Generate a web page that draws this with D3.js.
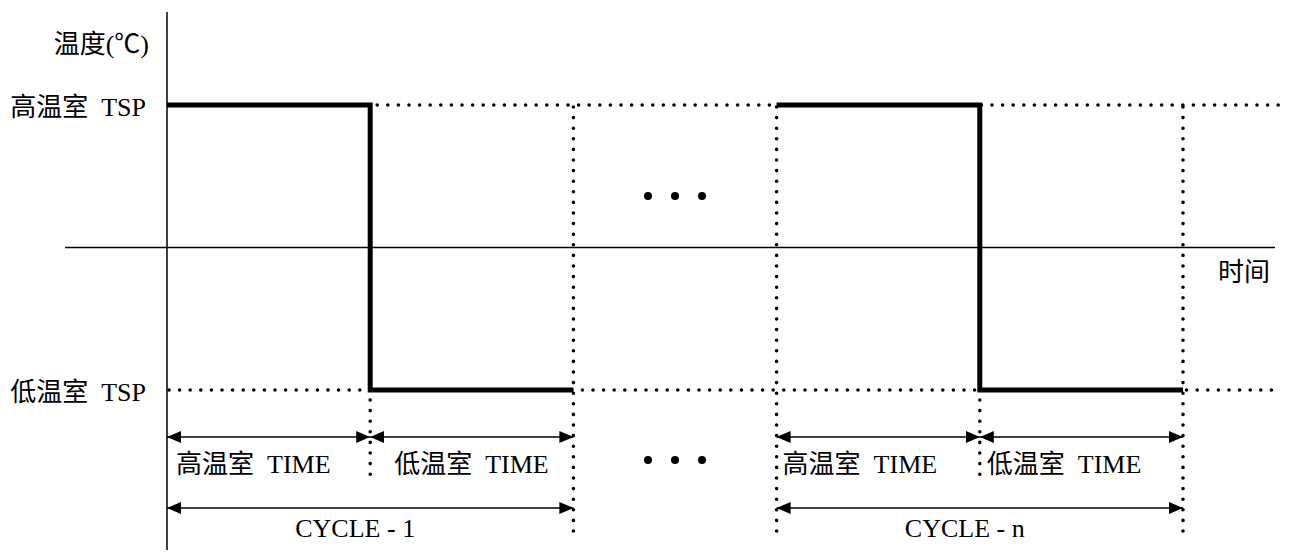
<!DOCTYPE html>
<html>
<head>
<meta charset="utf-8">
<script src="https://cdn.jsdelivr.net/npm/d3@7"></script>
<style>
  body { margin: 0; background: #fff; }
  text { font-family: "Liberation Serif", "Noto Sans CJK SC", serif; font-size: 26px; fill: #000; white-space: pre; }
</style>
</head>
<body>
<div id="chart"></div>
<script>
// Thermal shock cycle: high chamber soak, then low chamber soak
const cycleNames = ["CYCLE - 1", "CYCLE - n"];
const cycleStart = [0, 3];
const phaseNames = ["高温室  TIME", "低温室  TIME"];
const phaseLevel = [1, -1];
const phaseDuration = [1, 1];
const levelLabels = ["高温室  TSP", "低温室  TSP"];
const levelValues = [1, -1];
const yTitle = "温度(℃)";
const xTitle = "时间";

const width = 1290, height = 554;

const svg = d3.select("#chart")
  .append("svg")
  .attr("width", width)
  .attr("height", height);

const x = d3.scaleLinear().domain([0, 5]).range([167, 1183]);
const y = d3.scaleLinear().domain([-1, 1]).range([390, 105]);

const phaseRowY = 437, cycleRowY = 508, dotBottom = 532;

// arrowheads
const defs = svg.append("defs");
defs.append("marker")
  .attr("id", "arrow")
  .attr("viewBox", "0 0 14 12")
  .attr("refX", 14).attr("refY", 6)
  .attr("markerWidth", 14).attr("markerHeight", 12)
  .attr("markerUnits", "userSpaceOnUse")
  .attr("orient", "auto-start-reverse")
  .append("path")
  .attr("d", "M0,0L14,6L0,12Z")
  .attr("fill", "#000");

const dotted = sel => sel
  .attr("stroke", "#000")
  .attr("stroke-width", 3.6)
  .attr("stroke-linecap", "round")
  .attr("stroke-dasharray", "0 10.6")
  .attr("fill", "none");

// axes
svg.append("line")
  .attr("x1", 65).attr("x2", 1275)
  .attr("y1", y(0)).attr("y2", y(0))
  .attr("stroke", "#000").attr("stroke-width", 1.5);

svg.append("line")
  .attr("x1", x(0)).attr("x2", x(0))
  .attr("y1", 12).attr("y2", 550)
  .attr("stroke", "#000").attr("stroke-width", 1.5);

// dotted reference levels
svg.append("line").call(dotted)
  .attr("x1", x(phaseDuration[0]) + 7).attr("x2", 1280)
  .attr("y1", y(levelValues[0])).attr("y2", y(levelValues[0]));
svg.append("line").call(dotted)
  .attr("x1", x(0) + 2).attr("x2", 1280)
  .attr("y1", y(levelValues[1])).attr("y2", y(levelValues[1]));

// dotted verticals per cycle
cycleStart.forEach((s, i) => {
  const switchT = s + phaseDuration[0];
  const endT = switchT + phaseDuration[1];
  if (i > 0) {
    svg.append("line").call(dotted)
      .attr("x1", x(s)).attr("x2", x(s))
      .attr("y1", y(levelValues[0]) + 2).attr("y2", dotBottom);
  }
  svg.append("line").call(dotted)
    .attr("x1", x(switchT)).attr("x2", x(switchT))
    .attr("y1", y(levelValues[1]) + 10).attr("y2", 478);
  svg.append("line").call(dotted)
    .attr("x1", x(endT)).attr("x2", x(endT))
    .attr("y1", y(levelValues[0]) + 2).attr("y2", dotBottom);
});

// thick temperature profile
const profile = d3.line()
  .x(d => x(d[0]))
  .y(d => y(d[1]))
  .curve(d3.curveStepAfter);

cycleStart.forEach(s => {
  let t = s;
  const pts = [];
  phaseLevel.forEach((lv, j) => { pts.push([t, lv]); t += phaseDuration[j]; });
  pts.push([t, phaseLevel[phaseLevel.length - 1]]);
  svg.append("path")
    .attr("d", profile(pts))
    .attr("fill", "none")
    .attr("stroke", "#000")
    .attr("stroke-width", 5)
    .attr("stroke-linejoin", "miter");
});

// duration arrows and labels
const phaseLabelPad = [[9, 24], [6, 7]];
cycleStart.forEach((s, i) => {
  let t = s;
  phaseDuration.forEach((dur, j) => {
    svg.append("line")
      .attr("x1", x(t)).attr("x2", x(t + dur))
      .attr("y1", phaseRowY).attr("y2", phaseRowY)
      .attr("stroke", "#000").attr("stroke-width", 1.5)
      .attr("marker-start", "url(#arrow)")
      .attr("marker-end", "url(#arrow)");
    svg.append("text")
      .attr("x", x(t) + phaseLabelPad[i][j])
      .attr("y", 464)
      .attr("dy", "0.35em")
      .text(phaseNames[j]);
    t += dur;
  });
  svg.append("line")
    .attr("x1", x(s)).attr("x2", x(t))
    .attr("y1", cycleRowY).attr("y2", cycleRowY)
    .attr("stroke", "#000").attr("stroke-width", 1.5)
    .attr("marker-start", "url(#arrow)")
    .attr("marker-end", "url(#arrow)");
  svg.append("text")
    .attr("x", (x(s) + x(t)) / 2 - 15)
    .attr("y", 528)
    .attr("dy", "0.35em")
    .attr("text-anchor", "middle")
    .text(cycleNames[i]);
});

// ellipsis between cycles
[196, 460].forEach(cy => {
  [0, 1, 2].forEach(k => {
    svg.append("circle")
      .attr("cx", 648 + k * 27)
      .attr("cy", cy)
      .attr("r", 4)
      .attr("fill", "#000");
  });
});

// labels
svg.append("text")
  .attr("x", 149).attr("y", 44).attr("dy", "0.35em")
  .attr("text-anchor", "end")
  .text(yTitle);

levelLabels.forEach((lab, i) => {
  svg.append("text")
    .attr("x", 146).attr("y", y(levelValues[i]) + 2).attr("dy", "0.35em")
    .attr("text-anchor", "end")
    .text(lab);
});

svg.append("text")
  .attr("x", 1218).attr("y", 272).attr("dy", "0.35em")
  .text(xTitle);
</script>
</body>
</html>
